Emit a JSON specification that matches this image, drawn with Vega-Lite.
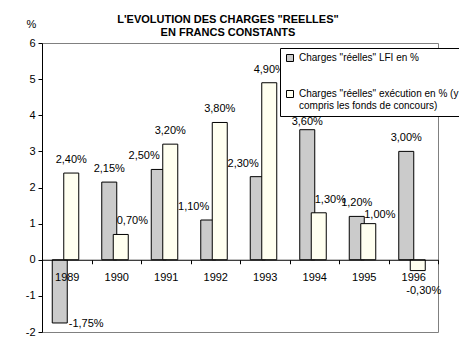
{
  "$schema": "https://vega.github.io/schema/vega-lite/v6.json",
  "width": 396,
  "height": 289,
  "autosize": "none",
  "padding": {"left": 42, "top": 43, "right": 21, "bottom": 15},
  "background": "white",
  "title": {
    "text": ["L'EVOLUTION DES CHARGES \"REELLES\"", "EN FRANCS CONSTANTS"],
    "font": "Liberation Sans",
    "fontSize": 11,
    "fontWeight": "bold",
    "lineHeight": 13,
    "anchor": "middle",
    "offset": 6,
    "dy": 26,
    "dx": -12,
    "color": "black"
  },
  "config": {
    "font": "Liberation Sans",
    "view": {"stroke": "#808080", "strokeWidth": 1},
    "locale": {"number": {"decimal": ",", "thousands": " ", "grouping": [3], "currency": ["", " €"], "minus": "-"}}
  },
  "data": {
    "values": [
      {"year": "1989", "serie": "Charges \"réelles\" LFI en %", "value": -1.75, "label": "-1,75%"},
      {"year": "1990", "serie": "Charges \"réelles\" LFI en %", "value": 2.15, "label": "2,15%"},
      {"year": "1991", "serie": "Charges \"réelles\" LFI en %", "value": 2.5, "label": "2,50%"},
      {"year": "1992", "serie": "Charges \"réelles\" LFI en %", "value": 1.1, "label": "1,10%"},
      {"year": "1993", "serie": "Charges \"réelles\" LFI en %", "value": 2.3, "label": "2,30%"},
      {"year": "1994", "serie": "Charges \"réelles\" LFI en %", "value": 3.6, "label": "3,60%"},
      {"year": "1995", "serie": "Charges \"réelles\" LFI en %", "value": 1.2, "label": "1,20%"},
      {"year": "1996", "serie": "Charges \"réelles\" LFI en %", "value": 3.0, "label": "3,00%"},
      {"year": "1989", "serie": "Charges \"réelles\" exécution en % (y compris les fonds de concours)", "value": 2.4, "label": "2,40%"},
      {"year": "1990", "serie": "Charges \"réelles\" exécution en % (y compris les fonds de concours)", "value": 0.7, "label": "0,70%"},
      {"year": "1991", "serie": "Charges \"réelles\" exécution en % (y compris les fonds de concours)", "value": 3.2, "label": "3,20%"},
      {"year": "1992", "serie": "Charges \"réelles\" exécution en % (y compris les fonds de concours)", "value": 3.8, "label": "3,80%"},
      {"year": "1993", "serie": "Charges \"réelles\" exécution en % (y compris les fonds de concours)", "value": 4.9, "label": "4,90%"},
      {"year": "1994", "serie": "Charges \"réelles\" exécution en % (y compris les fonds de concours)", "value": 1.3, "label": "1,30%"},
      {"year": "1995", "serie": "Charges \"réelles\" exécution en % (y compris les fonds de concours)", "value": 1.0, "label": "1,00%"},
      {"year": "1996", "serie": "Charges \"réelles\" exécution en % (y compris les fonds de concours)", "value": -0.3, "label": "-0,30%"}
    ]
  },
  "encoding": {
    "x": {
      "field": "year",
      "type": "ordinal",
      "scale": {"paddingInner": 0, "paddingOuter": 0},
      "axis": {
        "title": null,
        "offset": -72.25,
        "domainColor": "black",
        "tickColor": "black",
        "tickSize": 4,
        "tickBand": "extent",
        "labelPadding": 8,
        "labelFontSize": 11,
        "labelColor": "black",
        "labelAngle": 0,
        "grid": false,
        "zindex": 1
      }
    },
    "xOffset": {
      "field": "serie",
      "scale": {
        "domain": ["Charges \"réelles\" LFI en %", "Charges \"réelles\" exécution en % (y compris les fonds de concours)"],
        "range": [12, 35],
        "paddingInner": 0,
        "paddingOuter": 0
      }
    },
    "y": {
      "field": "value",
      "type": "quantitative",
      "scale": {"domain": [-2, 6], "nice": false},
      "axis": {
        "values": [-2, -1, 0, 1, 2, 3, 4, 5, 6],
        "title": "%",
        "titleAngle": 0,
        "titleX": -11,
        "titleY": -19,
        "titleAlign": "center",
        "titleBaseline": "middle",
        "titleFontWeight": "normal",
        "titleFontSize": 11,
        "titleColor": "black",
        "grid": false,
        "domainColor": "black",
        "tickColor": "black",
        "tickSize": 4,
        "labelPadding": 3,
        "labelFontSize": 11,
        "labelColor": "black"
      }
    }
  },
  "layer": [
    {
      "mark": {"type": "bar", "size": 15, "stroke": "black", "strokeWidth": 1},
      "encoding": {
        "color": {
          "field": "serie",
          "type": "nominal",
          "scale": {
            "domain": ["Charges \"réelles\" LFI en %", "Charges \"réelles\" exécution en % (y compris les fonds de concours)"],
            "range": ["#cbcbcb", "#fffff0"]
          },
          "legend": {
            "orient": "none",
            "legendX": 238,
            "legendY": 5,
            "title": null,
            "fillColor": "white",
            "strokeColor": "black",
            "padding": 5,
            "symbolType": "square",
            "symbolSize": 49,
            "symbolStrokeColor": "black",
            "symbolStrokeWidth": 1,
            "labelOffset": 4,
            "labelFontSize": 10,
            "labelColor": "black",
            "rowPadding": 24,
            "labelLimit": 300,
            "labelExpr": "indexof(datum.label,'(y')>0 ? ['Charges \"réelles\" exécution en % (y','compris les fonds de concours)'] : datum.label"
          }
        }
      }
    },
    {
      "transform": [{"filter": "(indexof(datum.serie,'LFI')>0 && indexof(['1990','1995','1996'], datum.year)>=0) || (indexof(datum.serie,'LFI')<0 && indexof(['1989','1991','1992','1993'], datum.year)>=0)"}],
      "mark": {"type": "text", "dy": -13, "fontSize": 11, "baseline": "middle", "align": "center", "color": "black"},
      "encoding": {"text": {"field": "label"}}
    },
    {
      "transform": [{"filter": "indexof(datum.serie,'LFI')>0 && datum.year == '1994'"}],
      "mark": {"type": "text", "dy": -8, "fontSize": 11, "baseline": "middle", "align": "center", "color": "black"},
      "encoding": {"text": {"field": "label"}}
    },
    {
      "transform": [{"filter": "indexof(datum.serie,'LFI')>0 && indexof(['1991','1992','1993'], datum.year)>=0"}],
      "mark": {"type": "text", "dy": -13, "dx": 1, "fontSize": 11, "baseline": "middle", "align": "right", "color": "black"},
      "encoding": {"text": {"field": "label"}}
    },
    {
      "transform": [{"filter": "indexof(datum.serie,'LFI')<0 && indexof(['1990','1994'], datum.year)>=0"}],
      "mark": {"type": "text", "dy": -13, "dx": -4, "fontSize": 11, "baseline": "middle", "align": "left", "color": "black"},
      "encoding": {"text": {"field": "label"}}
    },
    {
      "transform": [{"filter": "indexof(datum.serie,'LFI')<0 && datum.year == '1995'"}],
      "mark": {"type": "text", "dy": -9, "dx": -4, "fontSize": 11, "baseline": "middle", "align": "left", "color": "black"},
      "encoding": {"text": {"field": "label"}}
    },
    {
      "transform": [{"filter": "indexof(datum.serie,'LFI')>0 && datum.year == '1989'"}],
      "mark": {"type": "text", "dy": 1, "dx": 9, "fontSize": 11, "baseline": "middle", "align": "left", "color": "black"},
      "encoding": {"text": {"field": "label"}}
    },
    {
      "transform": [{"filter": "indexof(datum.serie,'LFI')<0 && datum.year == '1996'"}],
      "mark": {"type": "text", "dy": 20, "dx": 6, "fontSize": 11, "baseline": "middle", "align": "center", "color": "black"},
      "encoding": {"text": {"field": "label"}}
    }
  ]
}
